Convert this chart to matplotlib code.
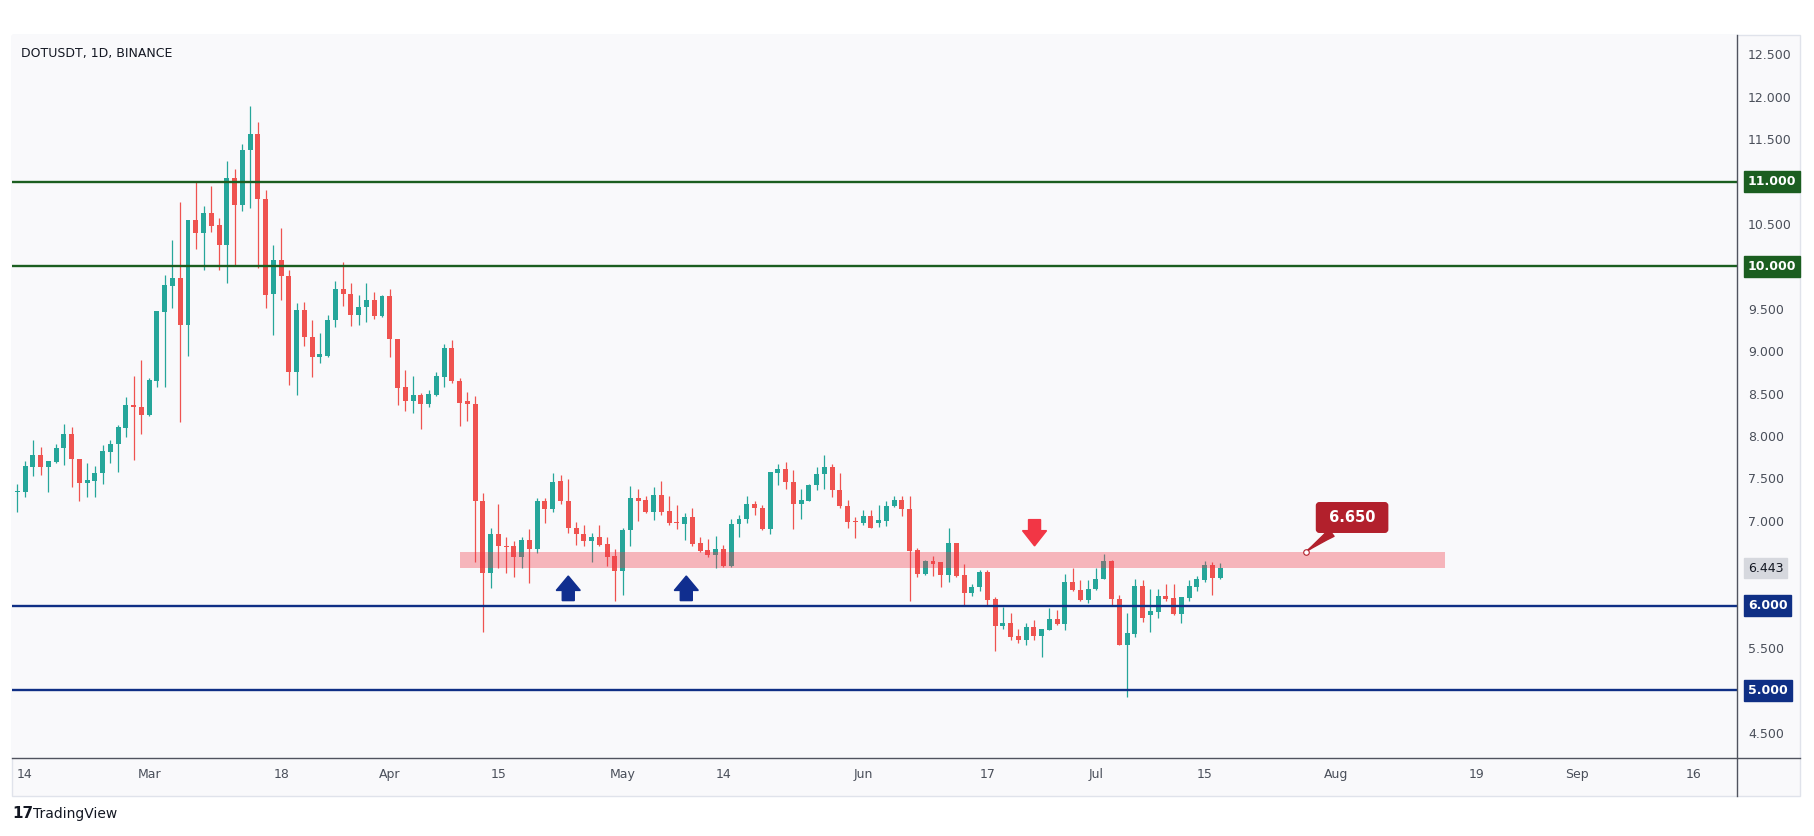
import matplotlib
matplotlib.use('Agg')
import matplotlib.pyplot as plt
import matplotlib.dates as mdates
from matplotlib.patches import Rectangle
from matplotlib.lines import Line2D
import pandas as pd
import numpy as np

# DOTUSDT daily candles
start_date = '2024-02-13'
opens = [7.34, 7.34, 7.64, 7.78, 7.64, 7.70, 7.86, 8.02, 7.73, 7.45,
         7.47, 7.56, 7.81, 7.91, 8.10, 8.37, 8.34, 8.25, 8.65, 9.46,
         9.77, 9.86, 9.31, 10.55, 10.40, 10.63, 10.49, 10.25, 11.04, 10.73,
         11.37, 11.56, 10.80, 9.68, 10.08, 9.89, 8.76, 9.49, 9.17, 8.93,
         8.95, 9.37, 9.73, 9.68, 9.43, 9.52, 9.61, 9.42, 9.65, 9.14,
         8.58, 8.41, 8.49, 8.38, 8.49, 8.70, 9.04, 8.65, 8.41, 8.38,
         7.23, 6.38, 6.85, 6.70, 6.70, 6.57, 6.78, 6.67, 7.24, 7.14,
         7.47, 7.24, 6.92, 6.85, 6.76, 6.81, 6.73, 6.59, 6.41, 6.89,
         7.27, 7.25, 7.11, 7.31, 7.12, 6.99, 6.96, 7.04, 6.74, 6.66,
         6.60, 6.67, 6.47, 6.96, 7.02, 7.20, 7.15, 6.91, 7.57, 7.61,
         7.46, 7.20, 7.24, 7.42, 7.55, 7.63, 7.36, 7.18, 7.00, 6.98,
         7.06, 6.98, 7.00, 7.17, 7.25, 7.14, 6.66, 6.37, 6.53, 6.51,
         6.36, 6.74, 6.36, 6.15, 6.22, 6.40, 6.08, 5.76, 5.79, 5.64,
         5.60, 5.75, 5.64, 5.71, 5.84, 5.78, 6.28, 6.19, 6.07, 6.20,
         6.32, 6.53, 6.08, 5.54, 5.67, 6.23, 5.89, 5.93, 6.11, 6.09,
         5.90, 6.09, 6.22, 6.30, 6.48, 6.33]
highs = [7.44, 7.71, 7.95, 7.87, 7.71, 7.91, 8.14, 8.11, 7.73, 7.68,
         7.65, 7.90, 7.95, 8.13, 8.46, 8.71, 8.90, 8.68, 9.47, 9.90,
         10.31, 10.76, 10.55, 11.00, 10.71, 10.95, 10.57, 11.24, 11.15, 11.45,
         11.89, 11.70, 10.90, 10.25, 10.45, 9.96, 9.57, 9.58, 9.37, 9.22,
         9.43, 9.83, 10.05, 9.81, 9.66, 9.80, 9.70, 9.66, 9.74, 9.15,
         8.78, 8.71, 8.51, 8.54, 8.75, 9.09, 9.13, 8.69, 8.52, 8.47,
         7.33, 6.92, 7.20, 6.81, 6.76, 6.81, 6.91, 7.27, 7.27, 7.57,
         7.54, 7.49, 6.99, 6.95, 6.86, 6.95, 6.81, 6.67, 6.92, 7.41,
         7.38, 7.29, 7.40, 7.47, 7.29, 7.19, 7.09, 7.15, 6.81, 6.79,
         6.82, 6.72, 7.02, 7.07, 7.29, 7.24, 7.19, 7.58, 7.67, 7.69,
         7.60, 7.38, 7.44, 7.63, 7.78, 7.67, 7.56, 7.25, 7.04, 7.13,
         7.13, 7.19, 7.24, 7.29, 7.29, 7.29, 6.68, 6.54, 6.59, 6.52,
         6.92, 6.74, 6.49, 6.26, 6.42, 6.42, 6.10, 5.99, 5.91, 5.73,
         5.80, 5.83, 5.73, 5.97, 5.95, 6.37, 6.44, 6.30, 6.30, 6.44,
         6.61, 6.54, 6.13, 5.91, 6.31, 6.30, 6.20, 6.20, 6.26, 6.25,
         6.10, 6.30, 6.35, 6.53, 6.52, 6.50]
lows = [7.11, 7.28, 7.53, 7.54, 7.34, 7.68, 7.66, 7.40, 7.23, 7.28,
        7.28, 7.44, 7.68, 7.58, 7.99, 7.72, 8.03, 8.24, 8.58, 8.58,
        9.51, 8.17, 8.94, 10.21, 9.96, 10.41, 9.96, 9.80, 10.02, 10.65,
        10.69, 9.98, 9.51, 9.19, 9.61, 8.60, 8.48, 9.06, 8.70, 8.86,
        8.93, 9.29, 9.53, 9.30, 9.31, 9.35, 9.38, 9.41, 8.93, 8.37,
        8.29, 8.27, 8.08, 8.34, 8.47, 8.58, 8.63, 8.12, 8.18, 6.51,
        5.69, 6.21, 6.44, 6.38, 6.34, 6.45, 6.27, 6.62, 6.97, 7.10,
        7.20, 6.86, 6.72, 6.70, 6.52, 6.70, 6.47, 6.05, 6.13, 6.70,
        7.00, 7.09, 7.01, 7.07, 6.95, 6.90, 6.78, 6.70, 6.63, 6.58,
        6.44, 6.46, 6.46, 6.81, 6.98, 7.07, 6.89, 6.85, 7.42, 7.38,
        6.90, 7.02, 7.23, 7.37, 7.38, 7.28, 7.15, 6.92, 6.80, 6.95,
        6.92, 6.93, 6.94, 7.16, 7.06, 6.06, 6.34, 6.36, 6.35, 6.22,
        6.28, 6.34, 6.01, 6.11, 6.17, 6.00, 5.46, 5.73, 5.60, 5.56,
        5.54, 5.60, 5.39, 5.71, 5.77, 5.71, 6.17, 6.06, 6.03, 6.19,
        6.31, 6.00, 5.54, 4.92, 5.63, 5.81, 5.69, 5.85, 6.05, 5.89,
        5.80, 6.06, 6.17, 6.28, 6.13, 6.32]
closes = [7.35, 7.65, 7.78, 7.64, 7.71, 7.86, 8.02, 7.73, 7.45, 7.48,
          7.56, 7.82, 7.91, 8.11, 8.37, 8.34, 8.25, 8.66, 9.47, 9.78,
          9.86, 9.31, 10.55, 10.40, 10.63, 10.48, 10.25, 11.04, 10.73, 11.37,
          11.56, 10.80, 9.66, 10.08, 9.89, 8.76, 9.49, 9.17, 8.93, 8.97,
          9.37, 9.73, 9.68, 9.43, 9.52, 9.61, 9.42, 9.65, 9.14, 8.57,
          8.41, 8.49, 8.38, 8.50, 8.71, 9.04, 8.65, 8.39, 8.38, 7.23,
          6.38, 6.85, 6.70, 6.69, 6.58, 6.78, 6.67, 7.24, 7.14, 7.46,
          7.23, 6.92, 6.85, 6.76, 6.81, 6.72, 6.58, 6.41, 6.89, 7.27,
          7.24, 7.11, 7.31, 7.11, 6.98, 6.98, 7.04, 6.73, 6.65, 6.60,
          6.67, 6.47, 6.96, 7.02, 7.20, 7.15, 6.91, 7.58, 7.61, 7.46,
          7.20, 7.25, 7.42, 7.55, 7.63, 7.36, 7.17, 6.99, 6.99, 7.06,
          6.92, 7.01, 7.18, 7.25, 7.14, 6.65, 6.37, 6.53, 6.49, 6.36,
          6.74, 6.35, 6.15, 6.22, 6.40, 6.07, 5.76, 5.79, 5.63, 5.60,
          5.75, 5.64, 5.73, 5.84, 5.78, 6.28, 6.18, 6.07, 6.20, 6.32,
          6.53, 6.08, 5.54, 5.68, 6.23, 5.85, 5.94, 6.11, 6.08, 5.90,
          6.10, 6.23, 6.31, 6.48, 6.33, 6.44]

green_levels = [11.0, 10.0]
blue_levels = [6.0, 5.0]
zone_low, zone_high = 6.441, 6.633
zone_start, zone_end = '2024-04-10 02:00', '2024-08-14 22:00'
callout_text = '6.650'
callout_point = ('2024-07-28', 6.633)
callout_box = ('2024-08-03', 7.04)
last_price = 6.443
up_arrow_dates = ['2024-04-24', '2024-05-09 05:00']
down_arrow_date = '2024-06-23 02:00'
tick_dates = ['2024-02-14', '2024-03-01', '2024-03-18', '2024-04-01', '2024-04-15',
              '2024-05-01', '2024-05-14', '2024-06-01', '2024-06-17', '2024-07-01',
              '2024-07-15', '2024-08-01', '2024-08-19', '2024-09-01', '2024-09-16']
tick_labels = ['14', 'Mar', '18', 'Apr', '15', 'May', '14', 'Jun', '17', 'Jul',
               '15', 'Aug', '19', 'Sep', '16']
price_ticks = np.arange(4.5, 12.51, 0.5)

UP = '#26a69a'
DOWN = '#ef5350'
GREEN = '#1b5e20'
NAVY = '#0f2f85'
BG = '#f9f9fb'
TXT = '#4a4f5a'

W, H = 1815, 836
fig = plt.figure(figsize=(W / 100, H / 100), dpi=100, facecolor='white')

# outer frame of the chart widget
frame = Rectangle((11.6 / W, 1 - 796 / H), (1800 - 11.6) / W, (796 - 34.7) / H,
                  transform=fig.transFigure, fc=BG, ec='#e0e3eb', lw=1, zorder=-5)
fig.add_artist(frame)

ax = fig.add_axes([11.6 / W, 1 - 758 / H, (1737 - 11.6) / W, (758 - 34.7) / H])
ax.set_facecolor(BG)

dates = pd.date_range(start_date, periods=len(opens), freq='D')
x = mdates.date2num(dates)
o = np.array(opens); h = np.array(highs); l = np.array(lows); c = np.array(closes)
colors = np.where(c >= o, UP, DOWN)

ax.vlines(x, l, h, colors=colors, lw=0.9, zorder=2)
body = np.maximum(np.abs(c - o), 0.012)
ax.bar(x, body, bottom=np.minimum(o, c), width=0.64, color=colors, lw=0, zorder=3)

for lv in green_levels:
    ax.axhline(lv, color=GREEN, lw=1.7, zorder=4)
for lv in blue_levels:
    ax.axhline(lv, color=NAVY, lw=1.7, zorder=4)

zs, ze = mdates.date2num(pd.Timestamp(zone_start)), mdates.date2num(pd.Timestamp(zone_end))
ax.add_patch(Rectangle((zs, zone_low), ze - zs, zone_high - zone_low,
                       fc='#f23645', alpha=0.35, lw=0, zorder=5))

for d in up_arrow_dates:
    xa = mdates.date2num(pd.Timestamp(d))
    ax.arrow(xa, 6.06, 0, 0.29, width=1.55, head_width=3.1, head_length=0.17,
             length_includes_head=True, fc='#102e8f', ec='#102e8f', zorder=6)
xa = mdates.date2num(pd.Timestamp(down_arrow_date))
ax.arrow(xa, 7.015, 0, -0.31, width=1.55, head_width=3.1, head_length=0.18,
         length_includes_head=True, fc='#f23645', ec='#f23645', zorder=6)

px = mdates.date2num(pd.Timestamp(callout_point[0]))
bx = mdates.date2num(pd.Timestamp(callout_box[0]))
ax.annotate(' ' + callout_text + ' ', xy=(px, callout_point[1]), xytext=(bx, callout_box[1]),
            ha='center', va='center', color='white', fontsize=10.5, fontweight='bold',
            bbox=dict(boxstyle='round,pad=0.5,rounding_size=0.2', fc='#b2202c', ec='#b2202c'),
            arrowprops=dict(arrowstyle='wedge,tail_width=0.6,shrink_factor=0.4',
                            fc='#b2202c', ec='#b2202c', shrinkA=0, shrinkB=0), zorder=7)
ax.plot(px, callout_point[1], 'o', ms=4, mfc='white', mec='#b2202c', mew=0.8, zorder=8)

ax.set_xlim(x[0] - 0.73, x[0] + 221.6)
ax.set_ylim(4.204, 12.733)

ax.set_xticks(mdates.date2num(pd.to_datetime(tick_dates)))
ax.set_xticklabels(tick_labels)
ax.yaxis.tick_right()
ax.set_yticks(price_ticks)
# levels that carry their own coloured tag on the scale get no plain label
boxed = green_levels + blue_levels
ax.set_yticklabels(['' if any(abs(v - b) < 1e-6 for b in boxed) else f'{v:.3f}'
                    for v in price_ticks])
for lab in ax.get_yticklabels():
    lab.set_horizontalalignment('left')
ax.tick_params(axis='y', length=0, pad=8, labelsize=9, labelcolor=TXT)
ax.tick_params(axis='x', length=0, pad=7, labelsize=9, labelcolor=TXT)
for s in ax.spines.values():
    s.set_visible(False)

# axis separators
fig.add_artist(Line2D([1737 / W, 1737 / W], [1 - 34.7 / H, 1 - 796 / H], color='#50535e', lw=1))
fig.add_artist(Line2D([11.6 / W, 1800 / W], [1 - 758 / H, 1 - 758 / H], color='#50535e', lw=1))

# price labels on the right scale
tr = ax.get_yaxis_transform()
for lv in green_levels:
    ax.text(1.0064, lv, f'{lv:.3f}', transform=tr, ha='left', va='center', fontsize=9,
            fontweight='bold', color='white', clip_on=False, zorder=10,
            bbox=dict(boxstyle='square,pad=0.3', fc=GREEN, ec=GREEN))
for lv in blue_levels:
    ax.text(1.0064, lv, f'{lv:.3f}', transform=tr, ha='left', va='center', fontsize=9,
            fontweight='bold', color='white', clip_on=False, zorder=10,
            bbox=dict(boxstyle='square,pad=0.3', fc=NAVY, ec=NAVY))
ax.text(1.0064, last_price, f'{last_price:.3f}', transform=tr, ha='left', va='center',
        fontsize=9, color='#131722', clip_on=False, zorder=10,
        bbox=dict(boxstyle='square,pad=0.3', fc='#d6d8de', ec='#d6d8de'))

fig.text(21 / W, 1 - 53 / H, 'DOTUSDT, 1D, BINANCE', fontsize=9, color='#131722',
         ha='left', va='center')
fig.text(12 / W, 1 - 814 / H, '17', fontsize=11, fontweight='heavy', color='#131722',
         ha='left', va='center')
fig.text(33 / W, 1 - 814 / H, 'TradingView', fontsize=10, color='#131722',
         ha='left', va='center')

fig.savefig('out.png', dpi=100, facecolor='white')
